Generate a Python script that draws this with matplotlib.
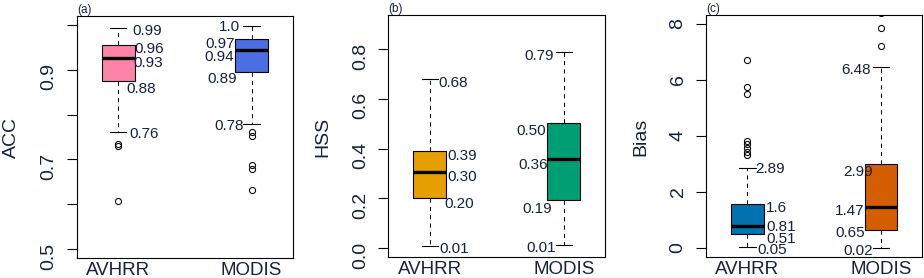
import matplotlib.pyplot as plt

plt.rcParams["font.family"] = ["Liberation Sans", "DejaVu Sans"]

# ---- data (whislo, q1, median, q3, whishi) ----
groups = ["AVHRR", "MODIS"]

acc_avhrr = [0.762, 0.876, 0.927, 0.956, 0.994]
acc_modis = [0.779, 0.894, 0.945, 0.969, 0.998]
acc_avhrr_out = [0.734, 0.730, 0.608]
acc_modis_out = [0.761, 0.753, 0.687, 0.678, 0.632]
acc_avhrr_lab = ["0.76", "0.88", "0.93", "0.96", "0.99"]
acc_modis_lab = ["0.78", "0.89", "0.94", "0.97", "1.0"]

hss_avhrr = [0.007, 0.203, 0.306, 0.392, 0.678]
hss_modis = [0.011, 0.192, 0.358, 0.502, 0.788]
hss_avhrr_out = []
hss_modis_out = []
hss_avhrr_lab = ["0.01", "0.20", "0.30", "0.39", "0.68"]
hss_modis_lab = ["0.01", "0.19", "0.36", "0.50", "0.79"]

bias_avhrr = [0.05, 0.52, 0.81, 1.60, 2.88]
bias_modis = [0.025, 0.645, 1.49, 3.00, 6.48]
bias_avhrr_out = [3.34, 3.45, 3.58, 3.73, 3.83, 5.51, 5.76, 6.73]
bias_modis_out = [7.24, 7.87, 8.41]
bias_avhrr_lab = ["0.05", "0.51", "0.81", "1.6", "2.89"]
bias_modis_lab = ["0.02", "0.65", "1.47", "2.99", "6.48"]

# ---- layout ----
W, H = 924, 278
TXT = "#18213d"

# label offsets in pixels (dx from box centre, dy downwards), same order as stats
offs_a = [[(11, 1), (7.7, 7.3), (15, 4), (16, 2.4), (13.7, 2)],
          [(-8, 0), (-15, 4.7), (-18, 5.4), (-16.3, 3.4), (-12, 0)]]
offs_b = [[(9.3, 1), (15, 4.6), (17.7, 3.7), (17.3, 4), (8.3, 2)],
          [(-7.3, 0.7), (-12, 6.7), (-15.3, 4), (-18, 6.7), (-10.3, 2)]]
offs_c = [[(10, 1.6), (19, 3.4), (19, 0), (18, 2.7), (8.3, 0)],
          [(-8.3, 1.7), (-16.3, 1), (-16.3, 3), (-8, 5.7), (-10.3, 1.7)]]

panels = [
    dict(box=(77, 16, 293, 258), ylim=(0.48, 1.02),
         yticks=[0.5, 0.6, 0.7, 0.8, 0.9, 1.0],
         yticklabels=["0.5", "", "0.7", "", "0.9", ""],
         ylabel="ACC", ylabel_x=11.7, tag="(a)",
         stats=[acc_avhrr, acc_modis], out=[acc_avhrr_out, acc_modis_out],
         labels=[acc_avhrr_lab, acc_modis_lab], offs=offs_a,
         colors=["#FF82A9", "#4A6FE3"]),
    dict(box=(388.3, 15.3, 605.3, 257), ylim=(-0.036, 0.936),
         yticks=[0.0, 0.2, 0.4, 0.6, 0.8],
         yticklabels=["0.0", "0.2", "0.4", "0.6", "0.8"],
         ylabel="HSS", ylabel_x=323, tag="(b)",
         stats=[hss_avhrr, hss_modis], out=[hss_avhrr_out, hss_modis_out],
         labels=[hss_avhrr_lab, hss_modis_lab], offs=offs_b,
         colors=["#E69F00", "#009E73"]),
    dict(box=(706, 15.3, 922.3, 257.3), ylim=(-0.32, 8.32),
         yticks=[0, 2, 4, 6, 8],
         yticklabels=["0", "2", "4", "6", "8"],
         ylabel="Bias", ylabel_x=641, tag="(c)",
         stats=[bias_avhrr, bias_modis], out=[bias_avhrr_out, bias_modis_out],
         labels=[bias_avhrr_lab, bias_modis_lab], offs=offs_c,
         colors=["#0072B2", "#D55E00"]),
]

fig = plt.figure(figsize=(W / 100, H / 100), dpi=100)

for p in panels:
    l, t, r, b = p["box"]
    ax = fig.add_axes([l / W, 1 - b / H, (r - l) / W, (b - t) / H])

    bstats = []
    for s, o, g in zip(p["stats"], p["out"], groups):
        bstats.append(dict(whislo=s[0], q1=s[1], med=s[2], q3=s[3], whishi=s[4],
                           fliers=o, label=g))
    res = ax.bxp(bstats, positions=[1, 2], widths=0.245, capwidths=0.1225,
                 patch_artist=True, showfliers=True,
                 boxprops=dict(edgecolor="black", linewidth=0.8),
                 whiskerprops=dict(color="black", linewidth=0.75, linestyle=(0, (4, 4))),
                 capprops=dict(color="black", linewidth=0.8),
                 medianprops=dict(color="black", linewidth=2.4),
                 flierprops=dict(marker="o", markerfacecolor="none", markeredgecolor="black",
                                 markersize=4.4, markeredgewidth=0.75))
    for patch, c in zip(res["boxes"], p["colors"]):
        patch.set_facecolor(c)

    # value labels next to each box
    for i, (s, labs, offs) in enumerate(zip(p["stats"], p["labels"], p["offs"])):
        ha = "left" if i == 0 else "right"
        for v, txt, (dx, dy) in zip(s, labs, offs):
            ax.annotate(txt, xy=(i + 1, v), xytext=(dx * 0.72, -(dy + 1.5) * 0.72),
                        textcoords="offset points", ha=ha, va="center",
                        fontsize=11, color=TXT, annotation_clip=False)

    ax.set_xlim(0.69, 2.31)
    ax.set_ylim(*p["ylim"])
    ax.set_yticks(p["yticks"], p["yticklabels"])
    ax.set_xticks([1, 2], groups)
    ax.tick_params(axis="y", length=7, width=0.8, pad=7, labelsize=14,
                   labelrotation=90, labelcolor=TXT)
    ax.tick_params(axis="x", length=0, pad=2.7, labelsize=13.5, labelcolor=TXT)
    for sp in ax.spines.values():
        sp.set_linewidth(0.8)
        sp.set_color("black")

    ax.text(0, 1, p["tag"], transform=ax.transAxes, ha="left", va="bottom",
            fontsize=8.5, color=TXT)
    fig.text(p["ylabel_x"] / W, 1 - 137 / H, p["ylabel"], rotation=90,
             ha="center", va="center", fontsize=14, color=TXT)

fig.savefig("out.png", dpi=100)
